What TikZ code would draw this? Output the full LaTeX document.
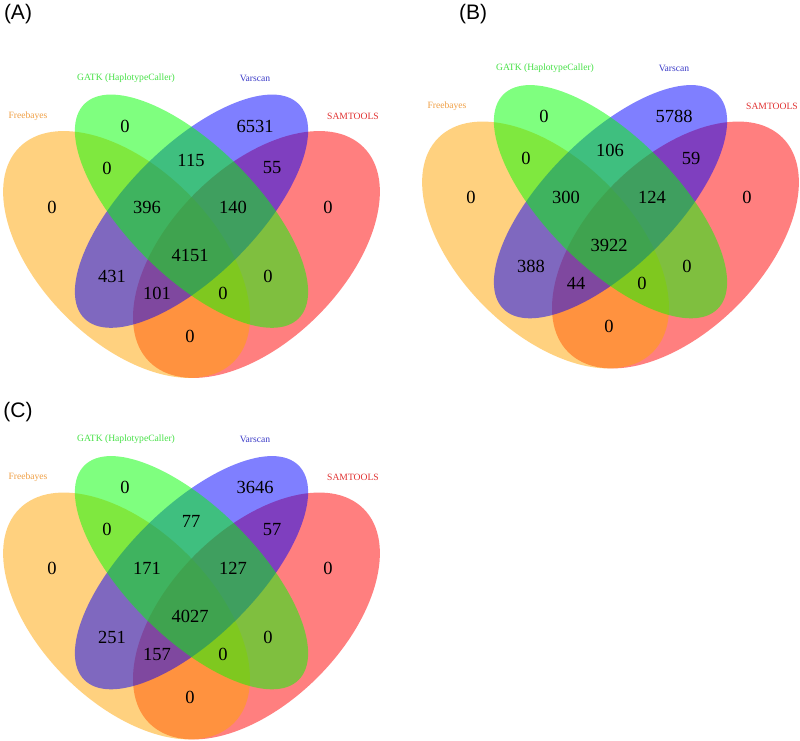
\documentclass[tikz,border=0pt]{standalone}
\usepackage{fontspec}
\setmainfont{Liberation Serif}
\newfontfamily\panelfont{Liberation Sans}
\definecolor{cO}{RGB}{255,165,0}
\definecolor{cG}{RGB}{0,255,0}
\definecolor{cB}{RGB}{0,0,255}
\definecolor{cR}{RGB}{255,0,0}
\definecolor{tO}{RGB}{240,160,70}
\definecolor{tG}{RGB}{70,225,70}
\definecolor{tB}{RGB}{60,60,200}
\definecolor{tR}{RGB}{225,50,50}
\tikzset{
  num/.style={inner sep=0pt,font=\fontsize{18.5}{20}\selectfont,text=black},
  cat/.style={inner sep=0pt,font=\fontsize{9.6}{11}\selectfont},
  plabel/.style={inner sep=0pt,font=\panelfont\fontsize{21}{24}\selectfont},
  setfill/.style={fill=#1,fill opacity=.5}
}
\newcommand\vennpanel[3]{%
\begin{scope}[shift={#2}]
  \begin{scope}[shift={(-25,458)},x=433pt,y=433pt]
    \fill[setfill=cR,rotate around={45:(0.65,0.47)}] (0.65,0.47) ellipse [x radius=0.35,y radius=0.2];
    \fill[setfill=cO,rotate around={135:(0.35,0.47)}] (0.35,0.47) ellipse [x radius=0.35,y radius=0.2];
    \fill[setfill=cB,rotate around={45:(0.5,0.57)}] (0.5,0.57) ellipse [x radius=0.35,y radius=0.15];
    \fill[setfill=cG,rotate around={135:(0.5,0.57)}] (0.5,0.57) ellipse [x radius=0.35,y radius=0.15];
  \end{scope}
  \node[cat,text=tO] (#1-catF) at (28,116) {Freebayes};
  \node[cat,text=tG] (#1-catG) at (126,78) {GATK (HaplotypeCaller)};
  \node[cat,text=tB] (#1-catV) at (255,78) {Varscan};
  \node[cat,text=tR] (#1-catS) at (353,116) {SAMTOOLS};
  \foreach \v [count=\i] in {#3} {
    \pgfmathsetmacro\xx{{52,125,255,328,107,191,272,147,233,190,112,157,223,268,190}[\i-1]}
    \pgfmathsetmacro\yy{{207,126,126,207,168,160,168,207,207,255,276,293,293,276,336}[\i-1]}
    \node[num,name=#1-r\i] at (\xx,\yy) {\v};
  }
\end{scope}}
\begin{document}
\begin{tikzpicture}[x=1pt,y=-1pt]
  \fill[white] (0,0) rectangle (800,741);
  \useasboundingbox (0,0) rectangle (800,741);
  \vennpanel{A}{(0,0)}{0,0,6531,0,0,115,55,396,140,4151,431,101,0,0,0}
  \vennpanel{B}{(419,-9.5)}{0,0,5788,0,0,106,59,300,124,3922,388,44,0,0,0}
  \vennpanel{C}{(0,361.5)}{0,0,3646,0,0,77,57,171,127,4027,251,157,0,0,0}
  \node[plabel] (labA) at (18,14) {(A)};
  \node[plabel] (labB) at (473,14) {(B)};
  \node[plabel] (labC) at (18,412) {(C)};
\end{tikzpicture}
\end{document}
